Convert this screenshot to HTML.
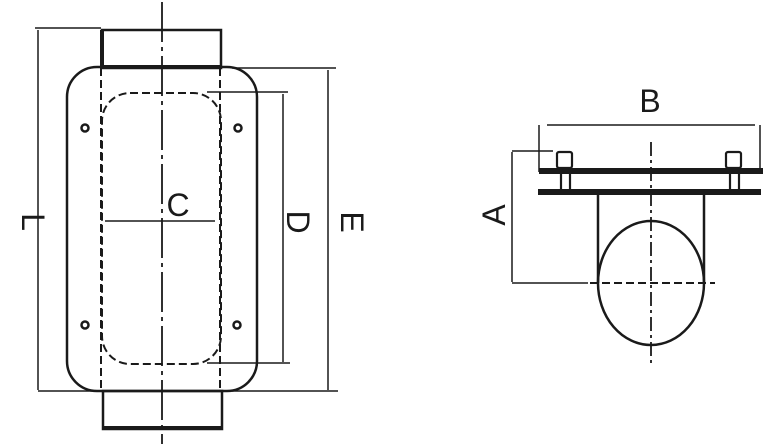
<!DOCTYPE html>
<html><head><style>html,body{margin:0;padding:0;background:#fff}svg{display:block}</style></head><body>
<svg width="781" height="444" viewBox="0 0 781 444" xmlns="http://www.w3.org/2000/svg" font-family="Liberation Sans, sans-serif">
<g stroke="#1a1a1a" fill="none" stroke-width="2.2">
<line x1="162" y1="2" x2="162" y2="444" stroke-dasharray="40,5,4,5" stroke-width="1.8"/>
<rect x="102" y="30" width="119" height="38" stroke-width="2.5"/>
<line x1="102" y1="30" x2="102" y2="68" stroke-width="4"/>
<line x1="102" y1="67" x2="221" y2="67" stroke-width="4"/>
<rect x="103" y="391" width="119" height="38" stroke-width="2.5"/>
<line x1="103" y1="428" x2="222" y2="428" stroke-width="4"/>
<rect x="67" y="67" width="190" height="324" rx="30" stroke-width="2.5"/>
<rect x="102" y="93" width="119" height="271" rx="28" stroke-dasharray="8,4" stroke-width="2"/>
<line x1="101" y1="68" x2="101" y2="391" stroke-dasharray="8,4" stroke-width="2"/>
<line x1="220" y1="68" x2="220" y2="391" stroke-dasharray="8,4" stroke-width="2"/>
<circle cx="85" cy="128" r="3.5" stroke-width="2.5"/><circle cx="238" cy="128" r="3.5" stroke-width="2.5"/>
<circle cx="85" cy="325" r="3.5" stroke-width="2.5"/><circle cx="237" cy="325" r="3.5" stroke-width="2.5"/>
<g stroke-width="1.5">
<line x1="105" y1="221" x2="215" y2="221"/>
<line x1="35" y1="28" x2="101" y2="28"/><line x1="38" y1="391" x2="102" y2="391"/>
<line x1="38" y1="30" x2="38" y2="390"/>
<line x1="232" y1="68" x2="336" y2="68"/><line x1="232" y1="391" x2="338" y2="391"/>
<line x1="328" y1="70" x2="328" y2="390"/>
<line x1="207" y1="92" x2="288" y2="92"/><line x1="207" y1="363" x2="290" y2="363"/>
<line x1="283" y1="94" x2="283" y2="362"/>
<line x1="547" y1="125" x2="755" y2="125"/>
<line x1="539" y1="125" x2="539" y2="172"/><line x1="760" y1="125" x2="760" y2="172"/>
<line x1="512" y1="151" x2="553" y2="151"/><line x1="512" y1="283" x2="588" y2="283"/>
<line x1="512" y1="152" x2="512" y2="282"/>
</g>
<line x1="651" y1="142" x2="651" y2="365" stroke-dasharray="14,4,3,4" stroke-width="1.8"/>
<line x1="590" y1="283" x2="715" y2="283" stroke-dasharray="8,4" stroke-width="2"/>
<rect x="539" y="168" width="224" height="6" fill="#1a1a1a" stroke="none"/>
<rect x="538" y="189" width="223" height="6" fill="#1a1a1a" stroke="none"/>
<rect x="557" y="152" width="15" height="16" rx="2"/><rect x="726" y="152" width="15" height="16" rx="2"/>
<line x1="561" y1="168" x2="561" y2="190"/><line x1="570" y1="168" x2="570" y2="190"/>
<line x1="730" y1="168" x2="730" y2="190"/><line x1="739" y1="168" x2="739" y2="190"/>
<line x1="598" y1="194" x2="598" y2="283" stroke-width="2.5"/><line x1="704" y1="194" x2="704" y2="283" stroke-width="2.5"/>
<ellipse cx="651" cy="283" rx="53" ry="62" stroke-width="2.5"/>
</g>
<g fill="#1a1a1a" font-size="32">
<text x="178" y="216" text-anchor="middle">C</text>
<text x="650" y="112" text-anchor="middle">B</text>
<text transform="translate(22,222) rotate(90)" text-anchor="middle">L</text>
<text transform="translate(287,222) rotate(90)" text-anchor="middle">D</text>
<text transform="translate(341,222) rotate(90)" text-anchor="middle">E</text>
<text transform="translate(505,215) rotate(-90)" text-anchor="middle">A</text>
</g>
</svg>
</body></html>
